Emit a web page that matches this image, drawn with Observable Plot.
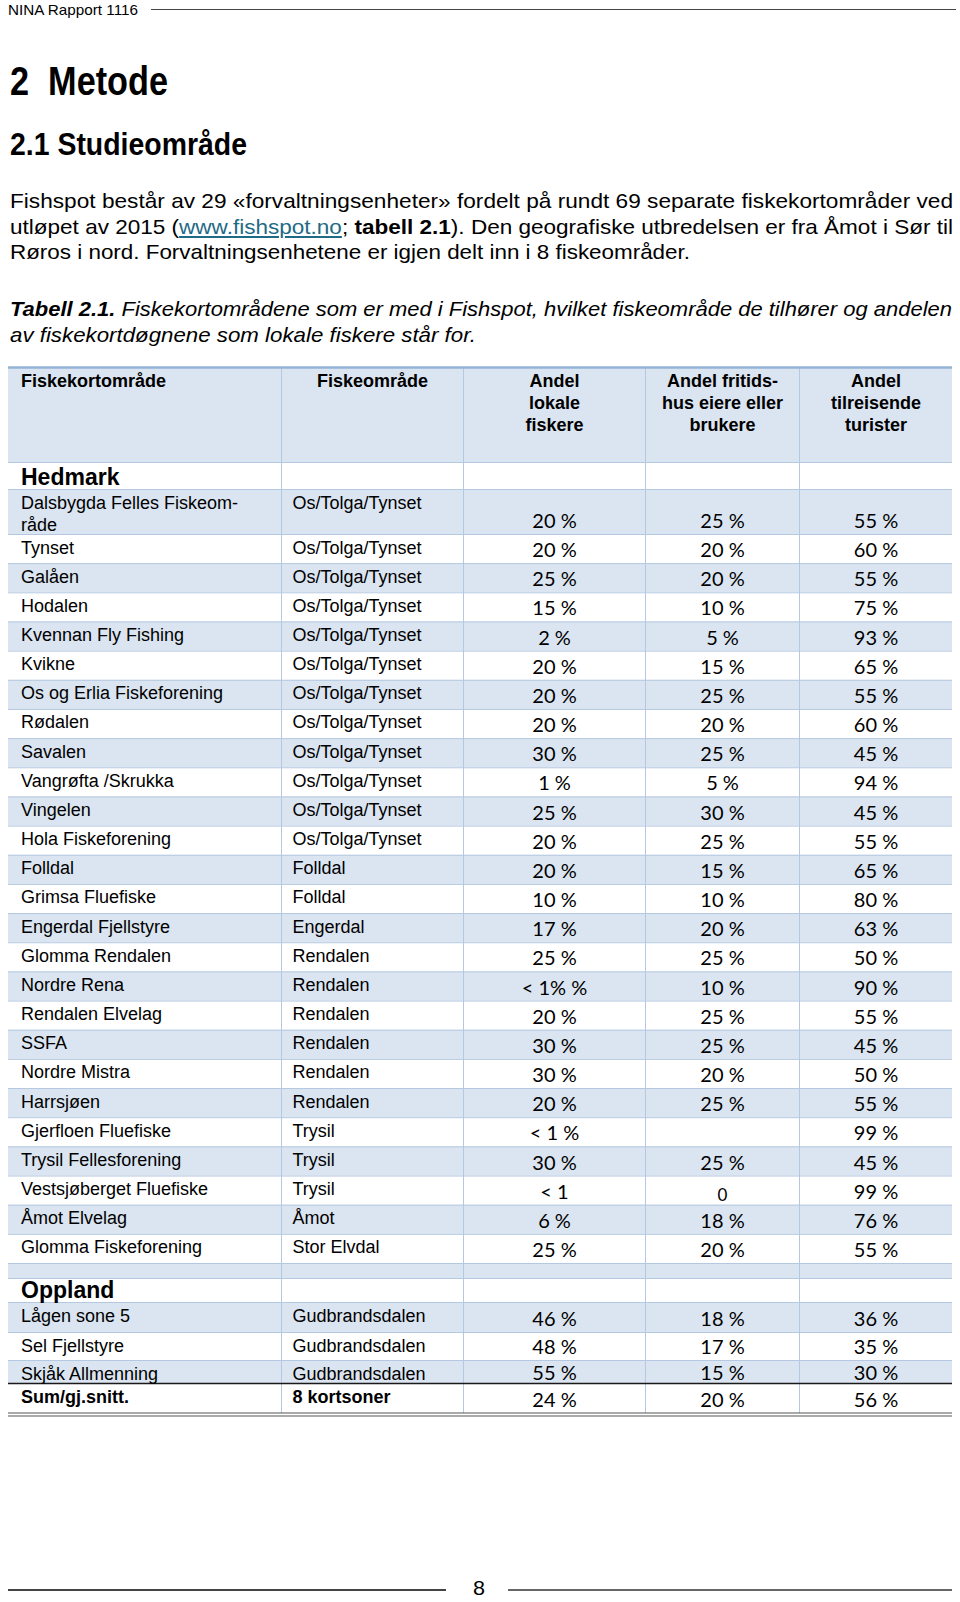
<!DOCTYPE html>
<html>
<head>
<meta charset="utf-8">
<script src="https://cdn.jsdelivr.net/npm/d3@7"></script>
<script src="https://cdn.jsdelivr.net/npm/@observablehq/plot@0.6"></script>
<style>
  html, body { margin: 0; padding: 0; background: #fff; }
  #page { position: relative; width: 960px; height: 1602px; overflow: hidden; font-family: "Liberation Sans", Arial, sans-serif; color: #000; }
  .t { position: absolute; white-space: nowrap; line-height: 1; transform-origin: 0 0; }
  .rule { position: absolute; }
  a { color: #1f6a86; text-decoration: underline; }
  #chart { position: absolute; left: 0; top: 355px; }
</style>
</head>
<body>
<div id="page">
  <div class="t fit" data-w="130" style="left:8px;top:2px;font-size:15px;">NINA Rapport 1116</div>
  <div class="rule" style="left:151px;top:9px;width:805px;height:1px;background:#444;"></div>

  <div class="t fit" data-w="158" style="left:10px;top:61px;font-size:40px;font-weight:bold;">2&nbsp; Metode</div>
  <div class="t fit" data-w="237" style="left:10px;top:129px;font-size:31px;font-weight:bold;">2.1 Studieområde</div>

  <div class="t fit" data-w="943" style="left:10px;top:190px;font-size:21px;">Fishspot består av 29 «forvaltningsenheter» fordelt på rundt 69 separate fiskekortområder ved</div>
  <div class="t fit" data-w="943" style="left:10px;top:216px;font-size:21px;">utløpet av 2015 (<a>www.fishspot.no</a>; <b>tabell 2.1</b>). Den geografiske utbredelsen er fra Åmot i Sør til</div>
  <div class="t fit" data-w="680" style="left:10px;top:241px;font-size:21px;">Røros i nord. Forvaltningsenhetene er igjen delt inn i 8 fiskeområder.</div>

  <div class="t fit" data-w="942" style="left:10px;top:298px;font-size:21px;font-style:italic;"><b>Tabell 2.1.</b> Fiskekortområdene som er med i Fishspot, hvilket fiskeområde de tilhører og andelen</div>
  <div class="t fit" data-w="466" style="left:10px;top:324px;font-size:21px;font-style:italic;">av fiskekortdøgnene som lokale fiskere står for.</div>

  <div id="chart"></div>

  <div class="rule" style="left:8px;top:1589px;width:438px;height:1.5px;background:#444;"></div>
  <div class="t fit" data-w="12" style="left:473px;top:1578px;font-size:20px;">8</div>
  <div class="rule" style="left:508px;top:1588.5px;width:444px;height:2px;background:#666;"></div>
</div>

<script>
// ---------------- DATA ----------------
const headers = [
  "Fiskekortområde",
  "Fiskeområde",
  "Andel\nlokale\nfiskere",
  "Andel fritids-\nhus eiere eller\nbrukere",
  "Andel\ntilreisende\nturister"
];
const regions = ["Hedmark", "Oppland"];

const hedmarkAreas = [
  "Dalsbygda Felles Fiskeom-\nråde", "Tynset", "Galåen", "Hodalen", "Kvennan Fly Fishing", "Kvikne",
  "Os og Erlia Fiskeforening", "Rødalen", "Savalen", "Vangrøfta /Skrukka", "Vingelen", "Hola Fiskeforening",
  "Folldal", "Grimsa Fluefiske", "Engerdal Fjellstyre", "Glomma Rendalen", "Nordre Rena", "Rendalen Elvelag",
  "SSFA", "Nordre Mistra", "Harrsjøen", "Gjerfloen Fluefiske", "Trysil Fellesforening", "Vestsjøberget Fluefiske",
  "Åmot Elvelag", "Glomma Fiskeforening"
];
const hedmarkFishAreas = [
  "Os/Tolga/Tynset", "Os/Tolga/Tynset", "Os/Tolga/Tynset", "Os/Tolga/Tynset", "Os/Tolga/Tynset", "Os/Tolga/Tynset",
  "Os/Tolga/Tynset", "Os/Tolga/Tynset", "Os/Tolga/Tynset", "Os/Tolga/Tynset", "Os/Tolga/Tynset", "Os/Tolga/Tynset",
  "Folldal", "Folldal", "Engerdal", "Rendalen", "Rendalen", "Rendalen",
  "Rendalen", "Rendalen", "Rendalen", "Trysil", "Trysil", "Trysil",
  "Åmot", "Stor Elvdal"
];
const hedmarkLocal = ["20 %","20 %","25 %","15 %","2 %","20 %","20 %","20 %","30 %","1 %","25 %","20 %","20 %","10 %","17 %","25 %","< 1% %","20 %","30 %","30 %","20 %","< 1 %","30 %","< 1","6 %","25 %"];
const hedmarkCabin = ["25 %","20 %","20 %","10 %","5 %","15 %","25 %","20 %","25 %","5 %","30 %","25 %","15 %","10 %","20 %","25 %","10 %","25 %","25 %","20 %","25 %","","25 %","0","18 %","20 %"];
const hedmarkTourist = ["55 %","60 %","55 %","75 %","93 %","65 %","55 %","60 %","45 %","94 %","45 %","55 %","65 %","80 %","63 %","50 %","90 %","55 %","45 %","50 %","55 %","99 %","45 %","99 %","76 %","55 %"];

const opplandAreas = ["Lågen sone 5", "Sel Fjellstyre", "Skjåk Allmenning"];
const opplandFishAreas = ["Gudbrandsdalen", "Gudbrandsdalen", "Gudbrandsdalen"];
const opplandLocal = ["46 %", "48 %", "55 %"];
const opplandCabin = ["18 %", "17 %", "15 %"];
const opplandTourist = ["36 %", "35 %", "30 %"];

const totalLabels = ["Sum/gj.snitt.", "8 kortsoner"];
const totalValues = ["24 %", "20 %", "56 %"];

// ---------------- LAYOUT (sizes in px) ----------------
const colWidths = [273, 182, 182, 154, 153];
const L = { header: 95, hedmark: 27, wrapRow: 45, bodyRow: 29.16, spacer: 15, oppland: 24, opplandRows: [30, 28, 23], total: 30 };
const pad1 = 12.5, pad2 = 11, lineStep = 22;

// ---------------- BUILD TABLE ----------------
const rows = [];
let cy = 0;
function push(kind, h, shade, extra = {}) { rows.push({kind, y0: cy, y1: cy + h, shade, ...extra}); cy += h; }
push("header", L.header, true);
push("region", L.hedmark, false, {c1: regions[0]});
hedmarkAreas.forEach((a, i) => push("body", i === 0 ? L.wrapRow : L.bodyRow, i % 2 === 0,
  {c1: a, c2: hedmarkFishAreas[i], v: [hedmarkLocal[i], hedmarkCabin[i], hedmarkTourist[i]]}));
push("spacer", L.spacer, true);
push("region", L.oppland, false, {c1: regions[1]});
opplandAreas.forEach((a, i) => push("body", L.opplandRows[i], i % 2 === 0,
  {c1: a, c2: opplandFishAreas[i], v: [opplandLocal[i], opplandCabin[i], opplandTourist[i]]}));
push("total", L.total, false, {c1: totalLabels[0], c2: totalLabels[1], v: totalValues});
const totalH = cy;

const colStart = [0];
colWidths.forEach(w => colStart.push(colStart[colStart.length - 1] + w));
const totalW = colStart[colStart.length - 1];
const colMid = j => (colStart[j] + colStart[j + 1]) / 2;
const nLines = s => String(s).split("\n").length;

const shaded = rows.filter(r => r.shade);
const totalRow = rows[rows.length - 1];
const seps = rows.slice(1).map(r => r.y0).filter(y => y !== totalRow.y0);

const headerCells = headers.map((h, j) => ({
  text: h,
  x: j === 0 ? colStart[0] + pad1 : colMid(j),
  left: j === 0,
  y: rows[0].y0 + 19.5 + (nLines(h) - 1) * lineStep
}));
const regionCells = rows.filter(r => r.kind === "region").map(r => ({text: r.c1, x: colStart[0] + pad1, y: r.y1 - 5}));
const bodyRows = rows.filter(r => r.kind === "body");
const col1Cells = bodyRows.map(r => ({text: r.c1, x: colStart[0] + pad1, y: r.y0 + 19 + (nLines(r.c1) - 1) * lineStep}));
const col2Cells = bodyRows.map(r => ({text: r.c2, x: colStart[1] + pad2, y: r.y0 + 19}));
const numCells = [];
rows.filter(r => r.v).forEach(r => r.v.forEach((t, k) => numCells.push({
  text: t, x: colMid(k + 2), y: Math.max(r.y0 + 19, r.y1 - 6.5), small: t === "0"
})));
const totalCells = [
  {text: totalRow.c1, x: colStart[0] + pad1, y: totalRow.y0 + 19},
  {text: totalRow.c2, x: colStart[1] + pad2, y: totalRow.y0 + 19}
];

const SANS = "Liberation Sans, Arial, sans-serif";
const NUM = "Lato, Carlito, Calibri, sans-serif";
const svgTop = 12;
const full = {x1: () => 0, x2: () => totalW};

const chart = Plot.plot({
  width: 960,
  height: svgTop + totalH + 8,
  margin: 0,
  x: {type: "linear", domain: [0, totalW], range: [8, 8 + totalW], axis: null},
  y: {type: "linear", domain: [0, totalH], range: [svgTop, svgTop + totalH], axis: null},
  style: {background: "transparent", fontFamily: SANS, overflow: "visible", color: "#000"},
  marks: [
    Plot.rect(shaded, {...full, y1: "y0", y2: "y1", fill: "#dbe5f1"}),
    Plot.ruleY(seps, {...full, stroke: "#b4c8e1", strokeWidth: 1}),
    Plot.ruleX(colStart.slice(1, -1), {y1: () => 0, y2: () => totalH, stroke: "#b4c8e1", strokeWidth: 1}),
    Plot.ruleY([0], {...full, stroke: "#95b3d7", strokeWidth: 2.5}),
    Plot.ruleY([totalRow.y0], {...full, stroke: "#1a1a1a", strokeWidth: 1.3}),
    Plot.ruleY([totalH], {...full, dy: -0.5, stroke: "#555", strokeWidth: 1.1}),
    Plot.ruleY([totalH], {...full, dy: 2.5, stroke: "#555", strokeWidth: 1.1}),
    Plot.text(headerCells.filter(d => d.left), {x: "x", y: "y", text: "text", textAnchor: "start", lineAnchor: "bottom",
      fontFamily: SANS, fontSize: 18, fontWeight: "bold", lineHeight: lineStep / 18, fill: "#000"}),
    Plot.text(headerCells.filter(d => !d.left), {x: "x", y: "y", text: "text", textAnchor: "middle", lineAnchor: "bottom",
      fontFamily: SANS, fontSize: 18, fontWeight: "bold", lineHeight: lineStep / 18, fill: "#000"}),
    Plot.text(regionCells, {x: "x", y: "y", text: "text", textAnchor: "start", lineAnchor: "bottom",
      fontFamily: SANS, fontSize: 23, fontWeight: "bold", fill: "#000"}),
    Plot.text(col1Cells, {x: "x", y: "y", text: "text", textAnchor: "start", lineAnchor: "bottom",
      fontFamily: SANS, fontSize: 18, lineHeight: lineStep / 18, fill: "#000"}),
    Plot.text(col2Cells, {x: "x", y: "y", text: "text", textAnchor: "start", lineAnchor: "bottom",
      fontFamily: SANS, fontSize: 18, fill: "#000"}),
    Plot.text(totalCells, {x: "x", y: "y", text: "text", textAnchor: "start", lineAnchor: "bottom",
      fontFamily: SANS, fontSize: 18, fontWeight: "bold", fill: "#000"}),
    Plot.text(numCells.filter(d => !d.small), {x: "x", y: "y", text: "text", textAnchor: "middle", lineAnchor: "bottom",
      fontFamily: NUM, fontSize: 20, fill: "#000"}),
    Plot.text(numCells.filter(d => d.small), {x: "x", y: "y", text: "text", textAnchor: "middle", lineAnchor: "bottom",
      fontFamily: NUM, fontSize: 17, dy: 2, fill: "#000"})
  ]
});
document.getElementById("chart").appendChild(chart);

function fit() {
  document.querySelectorAll(".fit").forEach(el => {
    el.style.transform = "none";
    const w = el.getBoundingClientRect().width;
    const t = +el.dataset.w;
    if (w > 0) el.style.transform = `scaleX(${t / w})`;
  });
}
fit();
if (document.fonts && document.fonts.ready) document.fonts.ready.then(fit);
</script>
</body>
</html>
